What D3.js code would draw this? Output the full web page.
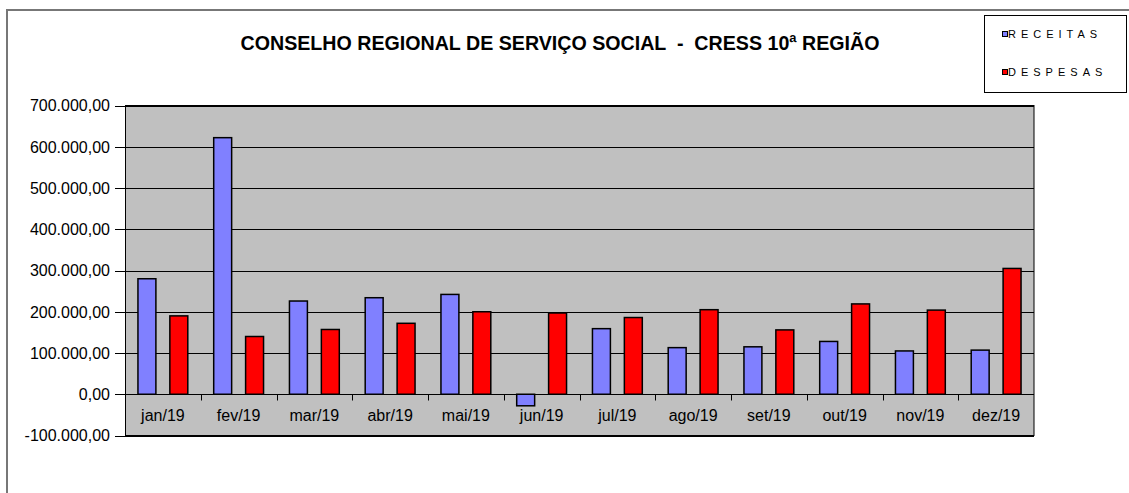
<!DOCTYPE html>
<html>
<head>
<meta charset="utf-8">
<script src="https://cdn.jsdelivr.net/npm/d3@7"></script>
<style>
  body { margin: 0; background: #fff; }
  svg { display: block; font-family: "Liberation Sans", Arial, sans-serif; }
</style>
</head>
<body>
<div id="chart"></div>
<script>
    // monthly values (R$)
    var months = ["jan/19", "fev/19", "mar/19", "abr/19", "mai/19", "jun/19",
                  "jul/19", "ago/19", "set/19", "out/19", "nov/19", "dez/19"];
    var receitas = [280000, 622000, 226000, 234000, 242000, -28000,
                    159000, 113000, 115000, 128000, 105000, 107000];
    var despesas = [190000, 140000, 157000, 172000, 200000, 197000,
                    186000, 205000, 156000, 219000, 204000, 305000];
    var seriesNames = ["RECEITAS", "DESPESAS"];
    var seriesColors = ["#8080ff", "#ff0000"];
    var yTicks = [-100000, 0, 100000, 200000, 300000, 400000, 500000, 600000, 700000];
    var title = "CONSELHO REGIONAL DE SERVIÇO SOCIAL  -  CRESS 10ª REGIÃO";

    var w = 1129, h = 493;
    var plot = {left: 125, right: 1034, top: 105.5, bottom: 435.5};

    var svg = d3.select("#chart").append("svg")
        .attr("width", w)
        .attr("height", h);

    // outer frame
    svg.append("path")
        .attr("d", "M7,493 V10 H1129")
        .style("fill", "none")
        .style("stroke", "#777")
        .style("stroke-width", 2);

    // scales
    var x = d3.scaleBand()
        .domain(months)
        .range([plot.left, plot.right]);

    var y = d3.scaleLinear()
        .domain([-100000, 700000])
        .range([plot.bottom, plot.top]);

    // two bars per month: 13 | 18 | 14 | 18 | 13
    var inner = d3.scaleBand()
        .domain([0, 1])
        .range([0, x.bandwidth()])
        .paddingInner(0.4375)
        .paddingOuter(0.406);

    // plot background
    svg.append("rect")
        .attr("x", plot.left)
        .attr("y", plot.top)
        .attr("width", plot.right - plot.left)
        .attr("height", plot.bottom - plot.top)
        .style("fill", "#c0c0c0");

    // gridlines
    svg.append("g").selectAll("line")
        .data(yTicks)
        .enter().append("line")
        .attr("x1", plot.left - 10)
        .attr("x2", plot.right)
        .attr("y1", function(d) { return Math.round(y(d)) + 0.5; })
        .attr("y2", function(d) { return Math.round(y(d)) + 0.5; })
        .style("stroke", "#000")
        .style("stroke-width", 1);

    // y labels
    var fmt = function(v) {
        var s = d3.format(",.2f")(v);
        return s.replace(/,/g, "#").replace(".", ",").replace(/#/g, ".").replace("−", "-");
    };
    svg.append("g").selectAll("text")
        .data(yTicks)
        .enter().append("text")
        .attr("x", 110)
        .attr("y", function(d) { return y(d); })
        .attr("dy", "0.36em")
        .attr("text-anchor", "end")
        .style("font-size", "16px")
        .style("fill", "#000")
        .text(fmt);

    // category ticks on the zero line
    var zeroY = Math.round(y(0)) + 0.5;
    svg.append("g").selectAll("line")
        .data(months.slice(1))
        .enter().append("line")
        .attr("x1", function(d) { return Math.round(x(d)) + 0.5; })
        .attr("x2", function(d) { return Math.round(x(d)) + 0.5; })
        .attr("y1", zeroY)
        .attr("y2", zeroY + 6)
        .style("stroke", "#000");

    // bars
    var groups = svg.append("g").selectAll("g")
        .data(months)
        .enter().append("g")
        .attr("transform", function(d) { return "translate(" + x(d) + ",0)"; });

    groups.selectAll("rect")
        .data(function(d, i) { return [receitas[i], despesas[i]]; })
        .enter().append("rect")
        .attr("x", function(d, j) { return inner(j); })
        .attr("width", inner.bandwidth())
        .attr("y", function(d) { return y(Math.max(0, d)); })
        .attr("height", function(d) { return Math.abs(y(d) - y(0)); })
        .style("fill", function(d, j) { return seriesColors[j]; })
        .style("stroke", "#000")
        .style("stroke-width", 1.5);

    // x labels
    svg.append("g").selectAll("text")
        .data(months)
        .enter().append("text")
        .attr("x", function(d) { return x(d) + x.bandwidth() / 2; })
        .attr("y", 421)
        .attr("text-anchor", "middle")
        .style("font-size", "16px")
        .style("fill", "#000")
        .text(function(d) { return d; });

    // plot border
    svg.append("rect")
        .attr("x", plot.left + 0.5)
        .attr("y", plot.top)
        .attr("width", plot.right - plot.left - 0.5)
        .attr("height", plot.bottom - plot.top)
        .style("fill", "none")
        .style("stroke", "#000")
        .style("stroke-width", 1);

    // title
    svg.append("text")
        .attr("x", 560)
        .attr("y", 50)
        .attr("text-anchor", "middle")
        .attr("textLength", 639)
        .attr("lengthAdjust", "spacingAndGlyphs")
        .style("white-space", "pre")
        .style("font-size", "20px")
        .style("font-weight", "bold")
        .style("fill", "#000")
        .text(title);

    // legend
    var legend = svg.append("g");
    legend.append("rect")
        .attr("x", 984.5)
        .attr("y", 15.5)
        .attr("width", 142)
        .attr("height", 77)
        .style("fill", "#fff")
        .style("stroke", "#000");

    var items = legend.selectAll("g")
        .data(seriesNames)
        .enter().append("g")
        .attr("transform", function(d, i) { return "translate(1002," + (38 + i * 38) + ")"; });

    items.append("rect")
        .attr("x", 0.5)
        .attr("y", -6.5)
        .attr("width", 5)
        .attr("height", 5)
        .style("fill", function(d, i) { return seriesColors[i]; })
        .style("stroke", "#000");

    items.append("text")
        .attr("x", 6)
        .attr("y", 0)
        .style("font-size", "11px")
        .style("letter-spacing", "5px")
        .style("fill", "#000")
        .text(function(d) { return d; });
</script>
</body>
</html>
